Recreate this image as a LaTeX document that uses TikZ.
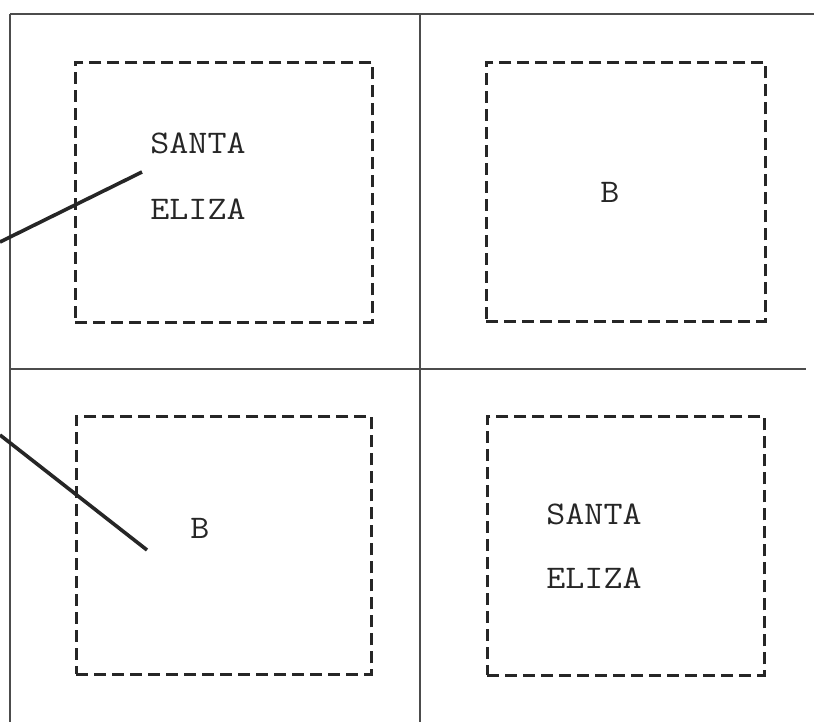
\documentclass[tikz,border=0pt]{standalone}
\usepackage{fontspec}
\begin{document}
\begin{tikzpicture}[x=1pt,y=-1pt,
  frame/.style={draw=black!70, line width=1.6pt},
  plot/.style={draw=black!85, line width=2.6pt, dash pattern=on 12pt off 6pt, rectangle, inner sep=0pt, anchor=north west},
  label/.style={font=\ttfamily\fontsize{33}{33}\selectfont, text=black!85, inner sep=0pt, xscale=1.12},
  leader/.style={draw=black!85, line width=3.6pt}]
\useasboundingbox[fill=white] (0,0) rectangle (814,722);
% frame lines
\coordinate (tl) at (10,14);
\coordinate (tr) at (814,14);
\coordinate (bl) at (10,722);
\coordinate (mt) at (420,14);
\coordinate (mb) at (420,722);
\coordinate (ml) at (10,369);
\coordinate (mr) at (806,369);
\draw[frame] (tl) -- (tr);
\draw[frame] (tl) -- (bl);
\draw[frame] (mt) -- (mb);
\draw[frame] (ml) -- (mr);
% plots
\node[plot, minimum width=297pt, minimum height=260pt] (p1) at (74,61) {};
\node[plot, minimum width=279pt, minimum height=259pt] (p2) at (485,61) {};
\node[plot, minimum width=295pt, minimum height=258pt] (p3) at (75,415) {};
\node[plot, minimum width=277pt, minimum height=259pt] (p4) at (486,415) {};
% labels
\node[label] (s1) at (198,143) {SANTA};
\node[label] (e1) at (198,209) {ELIZA};
\node[label] (b1) at (610,192) {B};
\node[label] (b2) at (200,528) {B};
\node[label] (s2) at (594,514) {SANTA};
\node[label] (e2) at (594,578) {ELIZA};
% leaders
\coordinate (l1a) at (0,242);
\coordinate (l1b) at (142,172);
\coordinate (l2a) at (0,435);
\coordinate (l2b) at (147,550);
\draw[leader] (l1a) -- (l1b);
\draw[leader] (l2a) -- (l2b);
\end{tikzpicture}
\end{document}
